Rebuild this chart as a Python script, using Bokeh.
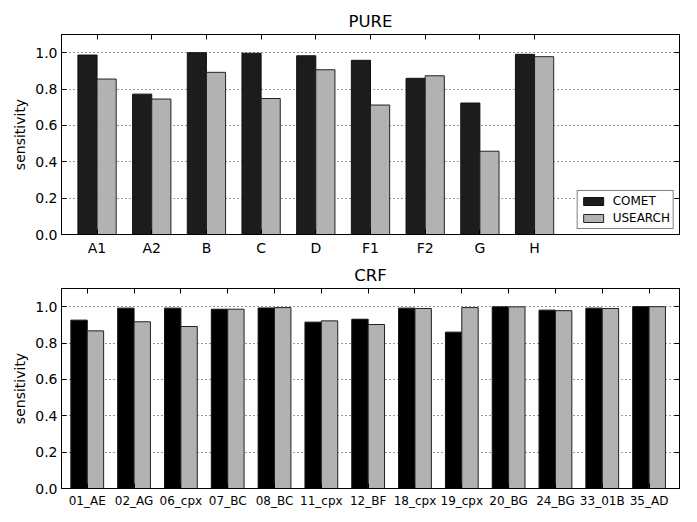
from bokeh.plotting import figure
from bokeh.layouts import column
from bokeh.models import (Range1d, FixedTicker, PrintfTickFormatter, LinearAxis,
                          Legend, LegendItem, ColumnDataSource, CustomLabelingPolicy)
from bokeh.embed import file_html
from bokeh.resources import INLINE

pure_labels = ["A1", "A2", "B", "C", "D", "F1", "F2", "G", "H"]
pure_comet = [0.987, 0.772, 1.0, 0.997, 0.983, 0.958, 0.859, 0.723, 0.991]
pure_usearch = [0.855, 0.745, 0.892, 0.748, 0.906, 0.712, 0.873, 0.458, 0.978]

crf_labels = ["01_AE", "02_AG", "06_cpx", "07_BC", "08_BC", "11_cpx", "12_BF",
              "18_cpx", "19_cpx", "20_BG", "24_BG", "33_01B", "35_AD"]
crf_comet = [0.926, 0.992, 0.992, 0.986, 0.993, 0.915, 0.931, 0.992, 0.860,
             0.999, 0.981, 0.992, 1.0]
crf_usearch = [0.867, 0.917, 0.891, 0.986, 0.995, 0.922, 0.902, 0.990, 0.995,
               0.999, 0.978, 0.990, 1.0]

series_names = ["COMET", "USEARCH"]
y_ticks = [0.0, 0.2, 0.4, 0.6, 0.8, 1.0]
BW = 0.35
FONT = "DejaVu Sans"


def make_panel(title, labels, comet, usearch, xlim, comet_color, xfs,
               show_legend, btop, bbottom):
    ind = list(range(len(labels)))
    p = figure(frame_width=618, frame_height=200,
               x_range=Range1d(*xlim), y_range=Range1d(0, 1.1),
               output_backend="svg", toolbar_location=None,
               min_border_left=61, min_border_right=2,
               min_border_top=btop, min_border_bottom=bbottom)
    p.title.text = title
    p.title.align = "center"
    p.title.text_font = FONT
    p.title.text_font_size = "16.5px"
    p.title.text_font_style = "normal"
    p.title.text_color = "black"
    p.title.standoff = 0

    src = ColumnDataSource(dict(
        xc=[i + BW / 2 for i in ind],
        xu=[i + 1.5 * BW for i in ind],
        comet=comet, usearch=usearch))
    r1 = p.vbar(x="xc", top="comet", width=BW, bottom=0, source=src,
                fill_color=comet_color, line_color="#111111", line_width=1)
    r2 = p.vbar(x="xu", top="usearch", width=BW, bottom=0, source=src,
                fill_color="#b2b2b2", line_color="#222222", line_width=1)

    ticks = [i + BW for i in ind]
    p.xaxis.ticker = FixedTicker(ticks=ticks)
    p.xaxis.major_label_overrides = {t: l for t, l in zip(ticks, labels)}
    p.xaxis.major_label_text_font_size = xfs
    p.xaxis.major_label_standoff = 5
    p.yaxis.ticker = FixedTicker(ticks=y_ticks)
    p.yaxis.formatter = PrintfTickFormatter(format="%.1f")
    p.yaxis.major_label_text_font_size = "14px"
    p.yaxis.major_label_standoff = 4
    p.yaxis.axis_label = "sensitivity"
    p.yaxis.axis_label_text_font_size = "14px"
    p.yaxis.axis_label_text_font_style = "normal"
    p.yaxis.axis_label_text_color = "black"
    p.yaxis.axis_label_standoff = 4

    for ax in [p.xaxis[0], p.yaxis[0]]:
        ax.major_label_text_font = FONT
        ax.axis_label_text_font = FONT
        ax.major_label_text_color = "black"
        ax.axis_line_color = "black"
        ax.major_tick_in = 5
        ax.major_tick_out = 0
        ax.minor_tick_line_color = None
        ax.major_tick_line_color = "black"

    top_ax = LinearAxis(ticker=FixedTicker(ticks=ticks), major_tick_in=5,
                        major_tick_out=0, minor_tick_line_color=None,
                        major_label_policy=CustomLabelingPolicy(code="return []"),
                        major_label_text_font_size="1px", major_label_standoff=0,
                        axis_line_color="black")
    right_ax = LinearAxis(ticker=FixedTicker(ticks=y_ticks), major_tick_in=5,
                          major_tick_out=0, minor_tick_line_color=None,
                          major_label_policy=CustomLabelingPolicy(code="return []"),
                          major_label_text_font_size="1px",
                          major_label_standoff=0, axis_line_color="black")
    p.add_layout(top_ax, "above")
    p.add_layout(right_ax, "right")

    p.xgrid.visible = False
    p.ygrid.ticker = FixedTicker(ticks=y_ticks[1:])
    p.ygrid.grid_line_color = "#333333"
    p.ygrid.grid_line_dash = "1 3"
    p.ygrid.grid_line_width = 1
    p.outline_line_color = "black"
    p.background_fill_color = "white"

    if show_legend:
        leg = Legend(items=[LegendItem(label=series_names[0], renderers=[r1]),
                            LegendItem(label=series_names[1], renderers=[r2])],
                     location="bottom_right", margin=5, padding=3, spacing=3,
                     glyph_width=25, glyph_height=10, label_height=14,
                     label_standoff=7, label_text_font=FONT,
                     label_text_font_size="12px", label_text_color="black",
                     border_line_color="black",
                     border_line_width=1, background_fill_alpha=1.0)
        p.add_layout(leg, "center")
    return p


p1 = make_panel("PURE", pure_labels, pure_comet, pure_usearch, (-0.3, 11.0),
                "#1c1c1c", "14px", True, 34, 24)
p2 = make_panel("CRF", crf_labels, crf_comet, crf_usearch, (-0.2, 13.0),
                "#000000", "12px", False, 30, 20)

layout = column(p1, p2, spacing=0)
open("out.html", "w").write(file_html(layout, INLINE))
